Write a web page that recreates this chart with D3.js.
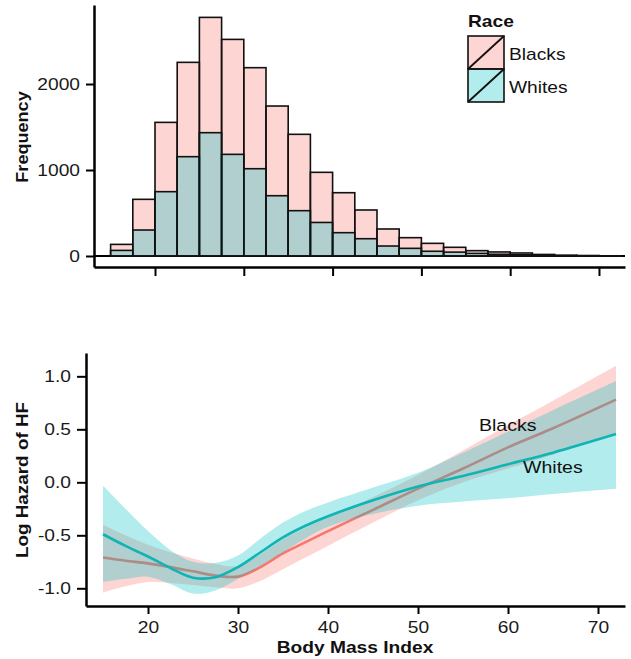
<!DOCTYPE html>
<html><head><meta charset="utf-8">
<script src="https://cdn.jsdelivr.net/npm/d3@7/dist/d3.min.js"></script>
<style>
html,body{margin:0;padding:0;background:#fff;}
svg{display:block;font-family:"Liberation Sans",Arial,sans-serif;}
</style></head>
<body>
<svg id="chart" width="631" height="659"></svg>
<script>
// ---------- Data ----------
const binWidth = 2.5;
const binStarts = [15,17.5,20,22.5,25,27.5,30,32.5,35,37.5,40,42.5,45,47.5,50,52.5,55,57.5,60,62.5,65,67.5,70];
const blacksCounts = [135,659,1554,2252,2775,2519,2190,1744,1415,973,736,535,314,213,147,101,62,47,35,18,9,5,2];
const whitesCounts = [65,302,748,1155,1434,1182,1015,701,527,390,271,201,116,89,55,45,30,20,14,8,4,3,1];
const freqTicks = [0,1000,2000];
const bmiTicks = [20,30,40,50,60,70];
const hazardTicks = [-1.0,-0.5,0.0,0.5,1.0];
const raceLabels = ["Blacks","Whites"];

const bmiGrid   = [15,17.5,20,22.5,25,27.5,30,32.5,35,37.5,40,45,50,55,60,65,72];
const blacksFit = [-0.71,-0.74,-0.765,-0.80,-0.84,-0.88,-0.89,-0.80,-0.67,-0.565,-0.46,-0.26,-0.06,0.13,0.33,0.51,0.78];
const blacksLow = [-1.04,-0.98,-0.94,-0.95,-0.97,-0.99,-1.00,-0.93,-0.82,-0.71,-0.60,-0.38,-0.17,0.00,0.13,0.26,0.46];
const blacksHigh= [-0.40,-0.50,-0.59,-0.66,-0.72,-0.77,-0.79,-0.68,-0.54,-0.43,-0.33,-0.14,0.07,0.30,0.54,0.77,1.10];
const whitesFit = [-0.49,-0.60,-0.70,-0.81,-0.90,-0.895,-0.80,-0.66,-0.52,-0.41,-0.32,-0.17,-0.04,0.06,0.17,0.28,0.455];
const whitesLow = [-0.94,-0.91,-0.89,-0.96,-1.05,-1.02,-0.91,-0.79,-0.66,-0.53,-0.42,-0.30,-0.22,-0.18,-0.15,-0.11,-0.06];
const whitesHigh= [-0.03,-0.25,-0.46,-0.64,-0.75,-0.76,-0.69,-0.53,-0.38,-0.27,-0.19,-0.05,0.09,0.28,0.48,0.68,0.955];

// ---------- Styles ----------
const pink = "#F8766D", teal = "#00BFC4";
const fillAlpha = 0.3;
const SX = 1.2; // horizontal text stretch seen in reference

const svg = d3.select("#chart");

function label(x, y, str, o = {}) {
  return svg.append("text")
    .attr("transform", `translate(${x},${y}) rotate(${o.rot||0}) scale(${o.sx||SX},1)`)
    .attr("text-anchor", o.anchor || "start")
    .attr("font-size", (o.size||16) + "px")
    .attr("font-weight", o.bold ? "bold" : "normal")
    .attr("fill", "#111")
    .text(str);
}

function styleAxis(g) {
  g.select(".domain").attr("stroke", "#000").attr("stroke-width", 2.5);
  g.selectAll(".tick line").attr("stroke", "#000").attr("stroke-width", 2);
  g.selectAll(".tick text").attr("font-size", "16px").attr("fill", "#1a1a1a")
    .attr("font-family", '"Liberation Sans",Arial,sans-serif');
}
function stretchLeftLabels(g) {
  g.selectAll(".tick text").each(function(){
    const t = d3.select(this); const x = +t.attr("x");
    t.attr("x", x / SX).attr("transform", `scale(${SX},1)`);
  });
}
const hyphenFmt = f => (v => f(v).replace("\u2212", "-"));

// ---------- Top panel: histogram ----------
const xTop = d3.scaleLinear().domain([13.13, 72.93]).range([94, 625]);
const yTop = d3.scaleLinear().domain([-128, 2919]).range([267, 5]);

const histData = binStarts.map((b, i) => ({x0: b, x1: b + binWidth, blacks: blacksCounts[i], whites: whitesCounts[i]}));

svg.append("line").attr("x1", xTop.range()[0]).attr("x2", xTop.range()[1])
  .attr("y1", yTop(0)).attr("y2", yTop(0)).attr("stroke", "#000").attr("stroke-width", 1.8);

const barG = svg.append("g");
barG.selectAll("rect.b").data(histData).join("rect").attr("class","b")
  .attr("x", d => xTop(d.x0)).attr("width", d => xTop(d.x1) - xTop(d.x0))
  .attr("y", d => yTop(d.blacks)).attr("height", d => yTop(0) - yTop(d.blacks))
  .attr("fill", pink).attr("fill-opacity", fillAlpha)
  .attr("stroke", "#111").attr("stroke-width", 1.6);
barG.selectAll("rect.w").data(histData).join("rect").attr("class","w")
  .attr("x", d => xTop(d.x0)).attr("width", d => xTop(d.x1) - xTop(d.x0))
  .attr("y", d => yTop(d.whites)).attr("height", d => yTop(0) - yTop(d.whites))
  .attr("fill", teal).attr("fill-opacity", fillAlpha)
  .attr("stroke", "#111").attr("stroke-width", 1.6);

const gyTop = svg.append("g").attr("transform", `translate(${xTop.range()[0]},0)`)
  .call(d3.axisLeft(yTop).tickValues(freqTicks).tickSize(8).tickSizeOuter(0).tickPadding(6).tickFormat(d3.format("d")));
styleAxis(gyTop);
stretchLeftLabels(gyTop);

const gxTop = svg.append("g").attr("transform", `translate(0,${yTop.range()[0]})`)
  .call(d3.axisBottom(xTop).tickValues(bmiTicks).tickSize(9).tickSizeOuter(0).tickFormat(""));
styleAxis(gxTop);

label(28, 137, "Frequency", {rot: -90, anchor: "middle", bold: true, sx: 1.13});

// Legend
label(468, 27, "Race", {bold: true});
const keyColors = [pink, teal];
raceLabels.forEach((r, i) => {
  const ky = 36 + i * 33;
  svg.append("rect").attr("x", 468).attr("y", ky).attr("width", 36).attr("height", 33)
    .attr("fill", keyColors[i]).attr("fill-opacity", fillAlpha)
    .attr("stroke", "#111").attr("stroke-width", 1.6);
  svg.append("line").attr("x1", 468).attr("y1", ky + 33).attr("x2", 504).attr("y2", ky)
    .attr("stroke", "#111").attr("stroke-width", 1.8);
  label(509, ky + 24, r);
});

// ---------- Bottom panel: log hazard ----------
const xBot = d3.scaleLinear().domain([13.11, 73.0]).range([86, 625]);
const yBot = d3.scaleLinear().domain([-1.167, 1.22]).range([606, 353]);

const curve = d3.curveCatmullRom.alpha(0.5);
function series(fit, lo, hi) { return bmiGrid.map((b, i) => ({x: b, y: fit[i], lo: lo[i], hi: hi[i]})); }
const blacksS = series(blacksFit, blacksLow, blacksHigh);
const whitesS = series(whitesFit, whitesLow, whitesHigh);

const area = d3.area().x(d => xBot(d.x)).y0(d => yBot(d.lo)).y1(d => yBot(d.hi)).curve(curve);
const line = d3.line().x(d => xBot(d.x)).y(d => yBot(d.y)).curve(curve);

svg.append("path").datum(blacksS).attr("d", area).attr("fill", pink).attr("fill-opacity", fillAlpha);
svg.append("path").datum(blacksS).attr("d", line).attr("fill", "none").attr("stroke", pink).attr("stroke-width", 2.6);
svg.append("path").datum(whitesS).attr("d", area).attr("fill", teal).attr("fill-opacity", fillAlpha);
svg.append("path").datum(whitesS).attr("d", line).attr("fill", "none").attr("stroke", "#0FB4B4").attr("stroke-width", 2.6);

const gyBot = svg.append("g").attr("transform", `translate(${xBot.range()[0]},0)`)
  .call(d3.axisLeft(yBot).tickValues(hazardTicks).tickSize(9).tickSizeOuter(0).tickPadding(6).tickFormat(hyphenFmt(d3.format(".1f"))));
styleAxis(gyBot);
stretchLeftLabels(gyBot);

const gxBot = svg.append("g").attr("transform", `translate(0,${yBot.range()[0]})`)
  .call(d3.axisBottom(xBot).tickValues(bmiTicks).tickSize(8).tickSizeOuter(0).tickPadding(8).tickFormat(d3.format("d")));
styleAxis(gxBot);
gxBot.selectAll(".tick text").attr("transform", `scale(${SX},1)`);

label(355, 653, "Body Mass Index", {anchor: "middle", bold: true});
label(28, 480, "Log Hazard of HF", {rot: -90, anchor: "middle", bold: true, sx: 1.18});

label(479, 431, raceLabels[0], {size: 17, sx: 1.15});
label(523, 473, raceLabels[1], {size: 17, sx: 1.15});
</script>
</body></html>
